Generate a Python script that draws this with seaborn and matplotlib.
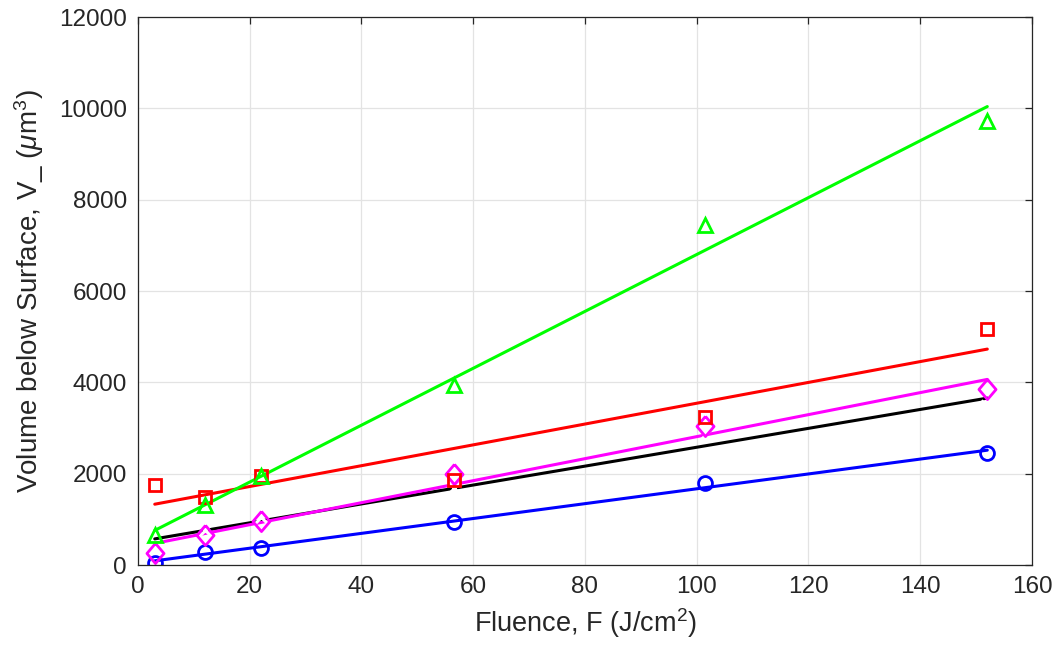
import numpy as np
import pandas as pd
import seaborn as sns
import matplotlib.pyplot as plt


fluence = [3, 12, 22, 56.5, 101.5, 152]
vol_circle = [50, 280, 370, 950, 1800, 2450]
vol_cross = [400, 760, 1060, 1690, 2850, 3480]
vol_diamond = [260, 660, 960, 2000, 3040, 3850]
vol_square = [1750, 1500, 1960, 1860, 3250, 5170]
vol_triangle = [650, 1320, 1950, 3950, 7450, 9720]

# matlab-ish diamond, a bit taller than wide
diamond = [(0, 1), (0.85, 0), (0, -1), (-0.85, 0), (0, 1)]

series = [
    ('circle', vol_circle, '#0000ff', 'o', 10),
    ('cross', vol_cross, '#000000', 'x', 8),
    ('diamond', vol_diamond, '#ff00ff', diamond, 14.5),
    ('square', vol_square, '#ff0000', 's', 8.5),
    ('triangle', vol_triangle, '#00ff00', '^', 10),
]

sns.set_theme(style='whitegrid')
plt.rcParams['font.family'] = ['Liberation Sans', 'DejaVu Sans']
plt.rcParams['mathtext.fontset'] = 'custom'
plt.rcParams['mathtext.rm'] = 'Liberation Sans'
plt.rcParams['mathtext.it'] = 'Liberation Sans:italic'

fig = plt.figure(figsize=(10.59, 6.49), dpi=100)
ax = fig.add_axes([0.1303, 0.1294, 0.8442, 0.8444])

# least squares fit lines
for name, vals, col, mk, ms in series:
    p = np.polyfit(fluence, vals, 1)
    xs = [min(fluence), max(fluence)]
    sns.lineplot(x=xs, y=np.polyval(p, xs), color=col, lw=2.2, ax=ax)

for name, vals, col, mk, ms in series:
    df = pd.DataFrame({'F': fluence, 'V': vals})
    if mk == 'x':
        sns.lineplot(data=df, x='F', y='V', marker='x', linestyle='none',
                     color=col, ms=ms, mew=2.2, ax=ax)
    else:
        sns.lineplot(data=df, x='F', y='V', marker=mk, linestyle='none',
                     color=col, mfc='none', mec=col, ms=ms, mew=2.0, ax=ax)

ax.set_xlim(0, 160)
ax.set_ylim(0, 12000)
ax.set_xticks(range(0, 161, 20))
ax.set_yticks(range(0, 12001, 2000))
ax.grid(True, color='#e3e3e3', lw=0.9)
for s in ax.spines.values():
    s.set_visible(True)
    s.set_color('#262626')
    s.set_linewidth(0.9)
ax.tick_params(direction='in', length=5, width=0.9, top=True, right=True,
               labelsize=17.5, colors='#262626', pad=8)
ax.set_xlabel('Fluence, F (J/cm$^2$)', fontsize=19.5, color='#262626', labelpad=6)
ax.set_ylabel('Volume below Surface, V_ ($\\mu$m$^3$)', fontsize=20,
              color='#262626', labelpad=9)

fig.savefig('out.png', dpi=100)
